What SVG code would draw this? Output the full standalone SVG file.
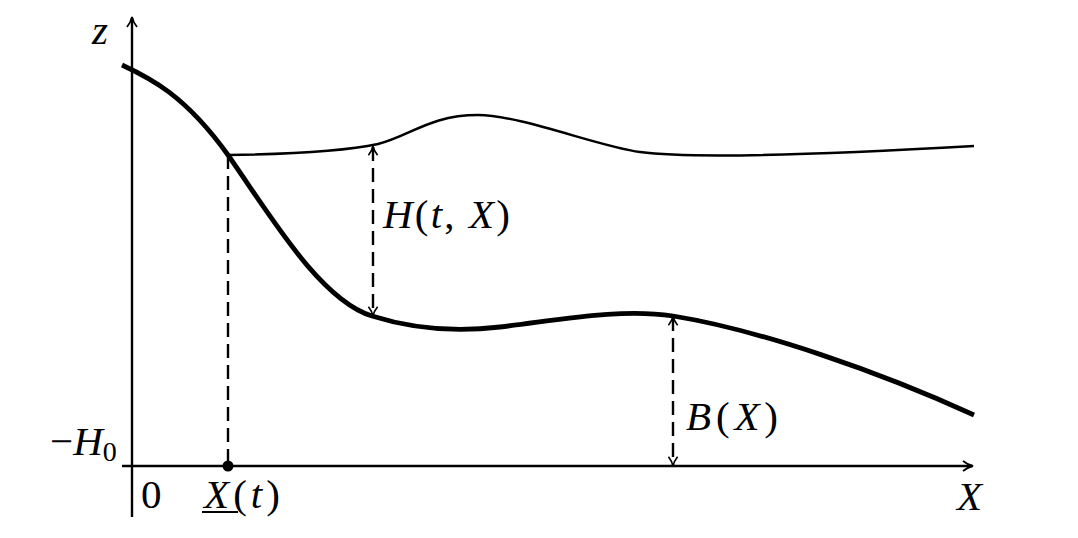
<svg xmlns="http://www.w3.org/2000/svg" width="1078" height="538" viewBox="0 0 1078 538">
<style>
.ax{stroke:#000;stroke-width:2.4;fill:none}
.thick{stroke:#000;stroke-width:4.8;fill:none;stroke-linecap:butt}
.thin{stroke:#000;stroke-width:2.5;fill:none}
.dash{stroke:#000;stroke-width:2.4;fill:none;stroke-dasharray:14,7}
.t{font-family:"Liberation Serif",serif;font-size:41px;fill:#000}
.i{font-style:italic}
</style>
<defs>
<marker id="ah" viewBox="0 0 12 12" refX="10" refY="6" markerWidth="12" markerHeight="12" markerUnits="userSpaceOnUse" orient="auto-start-reverse">
<path d="M1,1 Q6,5 11,6 Q6,7 1,11" fill="none" stroke="#000" stroke-width="1.8"/>
</marker>
<marker id="ahs" viewBox="0 0 12 12" refX="10" refY="6" markerWidth="11" markerHeight="11" markerUnits="userSpaceOnUse" orient="auto-start-reverse">
<path d="M1,1 Q6,5 11,6 Q6,7 1,11" fill="none" stroke="#000" stroke-width="1.8"/>
</marker>
</defs>
<g id="axes">
<line class="ax" x1="132" y1="517" x2="132" y2="18" marker-end="url(#ah)"/>
<line class="ax" x1="122" y1="466" x2="972" y2="466" marker-end="url(#ah)"/>
</g>
<g id="curves">
<path class="thick" d="M122,65 C150,78 185,95 228,155 C270,215 320,300 372,316 C410,328 450,333 500,327 C560,320 620,308 673,316 C760,330 880,372 974,415"/>
<path class="thin" d="M228,155 C300,154 350,150 378,144 C410,136 430,115 478,115 C520,115 600,147 640,152 C700,160 850,153 974,146"/>
</g>
<g id="connectors">
<line class="dash" x1="228" y1="155" x2="228" y2="466"/>
<line class="dash" x1="373" y1="147" x2="373" y2="315" marker-start="url(#ahs)" marker-end="url(#ahs)"/>
<line class="dash" x1="673" y1="317" x2="673" y2="465" marker-start="url(#ahs)" marker-end="url(#ahs)"/>
</g>
<g id="dot"><circle cx="228" cy="466" r="5.5" fill="#000"/></g>
<g id="labels">
<text class="t i" x="92" y="44" font-size="34">z</text>
<text class="t" x="50" y="455">−<tspan class="i">H</tspan><tspan font-size="28" dy="6">0</tspan></text>
<text class="t" x="141" y="508" font-size="32">0</text>
<text class="t" x="204" y="508" textLength="76" lengthAdjust="spacing"><tspan class="i">X</tspan>(<tspan class="i">t</tspan>)</text>
<line x1="202" y1="512" x2="238" y2="512" stroke="#000" stroke-width="2"/>
<text class="t" x="383" y="228" textLength="127" lengthAdjust="spacing"><tspan class="i">H</tspan>(<tspan class="i">t</tspan>, <tspan class="i">X</tspan>)</text>
<text class="t" x="686" y="430" textLength="92" lengthAdjust="spacing"><tspan class="i">B</tspan>(<tspan class="i">X</tspan>)</text>
<text class="t i" x="957" y="510">X</text>
</g>
</svg>
